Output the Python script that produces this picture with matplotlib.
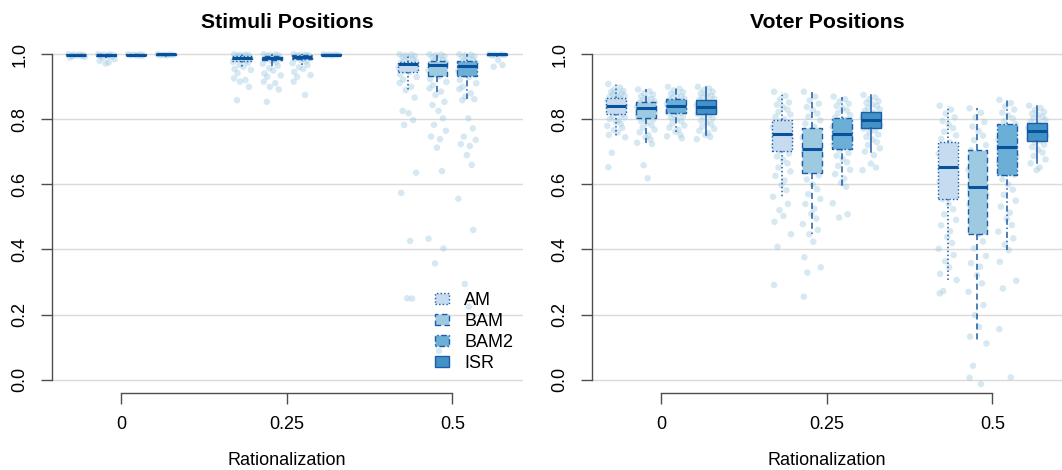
import matplotlib
matplotlib.use('Agg')
import matplotlib.pyplot as plt
from matplotlib.patches import Patch

plt.rcParams['font.family'] = ['Liberation Sans', 'DejaVu Sans']

# ---------------- data ----------------
rationalization = [0, 0.25, 0.5]
xtick_labels = ['0', '0.25', '0.5']
yticks = [0.0, 0.2, 0.4, 0.6, 0.8, 1.0]
ytick_labels = ['0.0', '0.2', '0.4', '0.6', '0.8', '1.0']
methods = ['AM', 'BAM', 'BAM2', 'ISR']
panel_titles = ['Stimuli Positions', 'Voter Positions']
xlabel = 'Rationalization'

# box statistics: rows = rationalization level, columns = AM, BAM, BAM2, ISR
stim_q1 = [[0.997, 0.996, 0.997, 0.998], [0.980, 0.9825, 0.9846, 0.998], [0.9465, 0.934, 0.933, 0.998]]
stim_med = [[0.999, 0.998, 0.999, 0.9995], [0.9877, 0.9896, 0.9927, 0.999], [0.970, 0.967, 0.964, 0.9995]]
stim_q3 = [[1.0, 1.0, 1.0, 1.0], [0.9948, 0.9957, 0.9978, 1.0], [0.9774, 0.980, 0.980, 1.0]]
stim_lo = [[0.994, 0.990, 0.995, 0.996], [0.962, 0.957, 0.967, 0.996], [0.890, 0.875, 0.862, 0.996]]
stim_hi = [[1.0, 1.0, 1.0, 1.0], [1.0, 1.0, 1.0, 1.0], [1.0, 1.0, 1.0, 1.0]]

voter_q1 = [[0.8155, 0.803, 0.8186, 0.8155], [0.7026, 0.634, 0.709, 0.7724], [0.555, 0.4465, 0.6298, 0.7324]]
voter_med = [[0.842, 0.836, 0.841, 0.839], [0.754, 0.708, 0.754, 0.798], [0.6525, 0.593, 0.716, 0.765]]
voter_q3 = [[0.8647, 0.854, 0.8616, 0.8595], [0.797, 0.7724, 0.803, 0.8216], [0.7294, 0.7048, 0.7866, 0.789]]
voter_lo = [[0.745, 0.728, 0.762, 0.752], [0.562, 0.447, 0.593, 0.7005], [0.306, 0.111, 0.398, 0.665]]
voter_hi = [[0.909, 0.892, 0.900, 0.900], [0.885, 0.885, 0.870, 0.875], [0.842, 0.834, 0.8595, 0.842]]

# individual run values (one list per rationalization level)
stim_AM_pts = [
    [1.0, 0.9995, 0.999, 0.998, 0.997, 0.996, 0.995, 0.994, 0.992, 0.990],
    [1.0, 0.999, 0.998, 0.997, 0.996, 0.994, 0.992, 0.990, 0.988, 0.986, 0.984, 0.982, 0.980,
     0.977, 0.973, 0.968, 0.962, 0.955, 0.952, 0.942, 0.926, 0.921, 0.916, 0.900, 0.859],
    [1.0, 0.999, 0.997, 0.995, 0.992, 0.989, 0.985, 0.981, 0.977, 0.974, 0.971, 0.968, 0.964, 0.960,
     0.955, 0.950, 0.945, 0.938, 0.930, 0.922, 0.912, 0.900, 0.890, 0.867, 0.826, 0.819, 0.798,
     0.783, 0.636, 0.574, 0.426, 0.250, 0.249],
]
stim_BAM_pts = [
    [1.0, 0.9995, 0.999, 0.998, 0.996, 0.994, 0.992, 0.990, 0.985, 0.980, 0.975, 0.972],
    [1.0, 0.999, 0.998, 0.997, 0.995, 0.993, 0.991, 0.989, 0.987, 0.985, 0.983, 0.980, 0.976,
     0.971, 0.965, 0.957, 0.950, 0.941, 0.935, 0.931, 0.916, 0.911, 0.900, 0.892, 0.854],
    [1.0, 0.999, 0.997, 0.994, 0.991, 0.987, 0.983, 0.979, 0.975, 0.971, 0.967, 0.962, 0.957, 0.951,
     0.945, 0.939, 0.932, 0.924, 0.915, 0.905, 0.895, 0.885, 0.875, 0.854, 0.844, 0.826, 0.803,
     0.783, 0.765, 0.747, 0.739, 0.713, 0.641, 0.433, 0.403, 0.357, 0.088],
]
stim_BAM2_pts = [
    [1.0, 0.9995, 0.999, 0.998, 0.997, 0.996, 0.995],
    [1.0, 0.999, 0.998, 0.997, 0.996, 0.994, 0.993, 0.991, 0.989, 0.987, 0.985, 0.982, 0.978,
     0.973, 0.967, 0.960, 0.955, 0.946, 0.936, 0.931, 0.916, 0.875],
    [1.0, 0.999, 0.997, 0.994, 0.991, 0.987, 0.983, 0.979, 0.975, 0.970, 0.965, 0.960, 0.955, 0.949,
     0.943, 0.937, 0.930, 0.921, 0.911, 0.900, 0.893, 0.880, 0.870, 0.862, 0.859, 0.803, 0.772,
     0.747, 0.737, 0.724, 0.718, 0.690, 0.660, 0.556, 0.460, 0.294, 0.224],
]
stim_ISR_pts = [
    [1.0, 0.9995, 0.999, 0.998, 0.997, 0.996],
    [1.0, 0.9995, 0.999, 0.998, 0.997, 0.996],
    [1.0, 0.9995, 0.999, 0.998, 0.996, 0.982, 0.967, 0.962],
]

voter_AM_pts = [
    [0.909, 0.898, 0.892, 0.888, 0.885, 0.882, 0.879, 0.876, 0.873, 0.870, 0.868, 0.866, 0.862, 0.858,
     0.855, 0.851, 0.848, 0.845, 0.842, 0.840, 0.837, 0.833, 0.830, 0.826, 0.822, 0.818, 0.815, 0.810,
     0.806, 0.801, 0.797, 0.792, 0.786, 0.780, 0.774, 0.767, 0.760, 0.752, 0.745, 0.697, 0.653],
    [0.885, 0.872, 0.861, 0.852, 0.845, 0.838, 0.830, 0.823, 0.815, 0.808, 0.800, 0.793, 0.785, 0.776,
     0.768, 0.760, 0.752, 0.745, 0.737, 0.728, 0.720, 0.712, 0.703, 0.695, 0.686, 0.676, 0.665, 0.652,
     0.640, 0.626, 0.612, 0.598, 0.582, 0.562, 0.540, 0.521, 0.503, 0.485, 0.447, 0.408, 0.291],
    [0.842, 0.830, 0.818, 0.806, 0.795, 0.784, 0.773, 0.762, 0.751, 0.740, 0.729, 0.718, 0.706, 0.694,
     0.682, 0.670, 0.658, 0.646, 0.634, 0.621, 0.608, 0.595, 0.582, 0.568, 0.555, 0.540, 0.524, 0.508,
     0.491, 0.474, 0.456, 0.438, 0.420, 0.402, 0.383, 0.364, 0.345, 0.325, 0.306, 0.272, 0.265],
]
voter_BAM_pts = [
    [0.892, 0.886, 0.880, 0.876, 0.871, 0.866, 0.862, 0.858, 0.855, 0.852, 0.849, 0.845, 0.842, 0.838,
     0.835, 0.832, 0.828, 0.824, 0.820, 0.816, 0.812, 0.807, 0.803, 0.799, 0.794, 0.788, 0.782, 0.775,
     0.768, 0.760, 0.752, 0.745, 0.738, 0.728, 0.724, 0.659, 0.619],
    [0.885, 0.870, 0.858, 0.848, 0.838, 0.828, 0.818, 0.808, 0.797, 0.787, 0.777, 0.766, 0.755, 0.744,
     0.733, 0.722, 0.711, 0.700, 0.688, 0.676, 0.664, 0.652, 0.640, 0.628, 0.615, 0.600, 0.585, 0.570,
     0.555, 0.540, 0.525, 0.510, 0.495, 0.478, 0.460, 0.447, 0.424, 0.376, 0.345, 0.329, 0.255],
    [0.834, 0.820, 0.806, 0.792, 0.778, 0.764, 0.750, 0.736, 0.721, 0.705, 0.690, 0.675, 0.660, 0.645,
     0.630, 0.615, 0.600, 0.585, 0.570, 0.554, 0.538, 0.521, 0.504, 0.487, 0.468, 0.447, 0.425, 0.403,
     0.380, 0.358, 0.347, 0.321, 0.296, 0.270, 0.229, 0.198, 0.162, 0.132, 0.111, 0.0425, 0.0055, -0.0138],
]
voter_BAM2_pts = [
    [0.900, 0.894, 0.889, 0.884, 0.879, 0.875, 0.871, 0.867, 0.864, 0.861, 0.857, 0.854, 0.850, 0.847,
     0.843, 0.840, 0.837, 0.833, 0.829, 0.825, 0.821, 0.818, 0.814, 0.810, 0.805, 0.800, 0.794, 0.788,
     0.781, 0.775, 0.768, 0.762, 0.752, 0.748, 0.742],
    [0.870, 0.862, 0.855, 0.848, 0.841, 0.834, 0.827, 0.820, 0.813, 0.806, 0.799, 0.791, 0.784, 0.776,
     0.768, 0.760, 0.753, 0.746, 0.738, 0.730, 0.722, 0.714, 0.706, 0.697, 0.688, 0.678, 0.668, 0.657,
     0.645, 0.632, 0.618, 0.605, 0.593, 0.542, 0.508, 0.498],
    [0.860, 0.850, 0.840, 0.830, 0.821, 0.812, 0.803, 0.794, 0.785, 0.776, 0.767, 0.758, 0.748, 0.738,
     0.728, 0.718, 0.708, 0.698, 0.688, 0.677, 0.666, 0.654, 0.642, 0.630, 0.616, 0.600, 0.584, 0.568,
     0.550, 0.532, 0.513, 0.494, 0.475, 0.455, 0.434, 0.415, 0.398, 0.362, 0.304, 0.280, 0.155, 0.0068],
]
voter_ISR_pts = [
    [0.900, 0.895, 0.890, 0.885, 0.880, 0.876, 0.872, 0.868, 0.864, 0.860, 0.856, 0.852, 0.848, 0.844,
     0.840, 0.837, 0.833, 0.829, 0.825, 0.821, 0.817, 0.813, 0.808, 0.803, 0.797, 0.791, 0.785, 0.778,
     0.771, 0.765, 0.758, 0.752, 0.746, 0.739],
    [0.875, 0.868, 0.862, 0.856, 0.851, 0.846, 0.841, 0.836, 0.831, 0.826, 0.821, 0.816, 0.811, 0.806,
     0.801, 0.797, 0.792, 0.787, 0.782, 0.777, 0.772, 0.766, 0.760, 0.753, 0.746, 0.738, 0.730, 0.721,
     0.711, 0.701, 0.690, 0.664, 0.652, 0.644],
    [0.842, 0.835, 0.829, 0.823, 0.818, 0.813, 0.808, 0.803, 0.798, 0.793, 0.788, 0.783, 0.778, 0.773,
     0.768, 0.764, 0.760, 0.755, 0.750, 0.745, 0.740, 0.735, 0.729, 0.722, 0.715, 0.707, 0.698, 0.688,
     0.677, 0.665, 0.652, 0.644],
]

# ---------------- style ----------------
fills = ['#c6dbef', '#9ecae1', '#6baed6', '#4292c6']
edge_col = '#1d5ca6'
med_col = '#08519c'
linestyles = [(0, (1, 1.6)), (0, (4, 2.5)), (0, (1, 1.8, 4, 1.8)), '-']
pt_color = '#9ecae1'
axis_col = '#4d4d4d'
grid_col = '#dadada'
FS = 13
jitter = [-0.8, 0.35, -0.2, 0.7, -0.5, 0.1, 0.55, -0.35, 0.85, -0.65, 0.25, -0.05, 0.45, -0.9, 0.6, -0.25,
          0.15, -0.75, 0.9, -0.45]
offset_step = 0.045
box_w = 0.030
jit_w = 0.015

W, H = 1062, 470
fig = plt.figure(figsize=(W / 100, H / 100), dpi=100)

ax_bottom = 392.6
ax_top = 41.3
ax_w = 470.8
lefts = [51.7, 591.7]

panels = [
    (stim_q1, stim_med, stim_q3, stim_lo, stim_hi, [stim_AM_pts, stim_BAM_pts, stim_BAM2_pts, stim_ISR_pts]),
    (voter_q1, voter_med, voter_q3, voter_lo, voter_hi, [voter_AM_pts, voter_BAM_pts, voter_BAM2_pts, voter_ISR_pts]),
]

axes = []
for p, (q1, med, q3, lo, hi, pts) in enumerate(panels):
    ax = fig.add_axes([lefts[p] / W, 1 - ax_bottom / H, ax_w / W, (ax_bottom - ax_top) / H])
    axes.append(ax)
    ax.set_xlim(-0.1046, 0.6058)
    ax.set_ylim(-0.04, 1.04)

    for yv in yticks:
        ax.axhline(yv, color=grid_col, lw=1.0, zorder=0)

    for i, m in enumerate(methods):
        positions = [r + (i - 1.5) * offset_step for r in rationalization]
        # jittered points
        for k, r in enumerate(rationalization):
            vals = pts[i][k]
            xs = [positions[k] + jitter[j % len(jitter)] * jit_w for j in range(len(vals))]
            ax.scatter(xs, vals, s=22, color=pt_color, alpha=0.42, edgecolors='none', zorder=1)
        stats = [dict(med=med[k][i], q1=q1[k][i], q3=q3[k][i], whislo=lo[k][i], whishi=hi[k][i], fliers=[])
                 for k in range(len(rationalization))]
        ax.bxp(stats, positions=positions, widths=box_w, patch_artist=True, showcaps=False,
               showfliers=False, manage_ticks=False, zorder=3,
               boxprops=dict(facecolor=fills[i], edgecolor=edge_col, linestyle=linestyles[i], lw=1.0),
               whiskerprops=dict(color=edge_col, linestyle=linestyles[i], lw=1.1),
               medianprops=dict(color=med_col, lw=2.2, solid_capstyle='butt'))

    for s in ['top', 'right']:
        ax.spines[s].set_visible(False)
    ax.spines['left'].set_bounds(0, 1)
    ax.spines['bottom'].set_bounds(0, 0.5)
    for s in ['left', 'bottom']:
        ax.spines[s].set_color(axis_col)
        ax.spines[s].set_linewidth(1.0)

    ax.set_yticks(yticks)
    ax.set_yticklabels(ytick_labels, rotation=90, va='center', ha='center')
    ax.set_xticks(rationalization)
    ax.set_xticklabels(xtick_labels)
    ax.tick_params(axis='y', length=7.9, width=1.0, color=axis_col, pad=15.1, labelsize=FS)
    ax.tick_params(axis='x', length=7.9, width=1.0, color=axis_col, pad=9.3, labelsize=FS)

    cx = (lefts[p] + ax_w / 2) / W
    fig.text(cx, 1 - 28.3 / H, panel_titles[p], ha='center', va='baseline', fontsize=15.3, fontweight='bold')
    fig.text(cx, 1 - 464.6 / H, xlabel, ha='center', va='baseline', fontsize=FS)

handles = [Patch(facecolor=fills[i], edgecolor=edge_col, linestyle=linestyles[i], lw=1.0) for i in range(4)]
axes[0].legend(handles, methods, loc='upper left', bbox_to_anchor=(435 / W, 1 - 292.0 / H),
               bbox_transform=fig.transFigure, frameon=False, fontsize=FS, borderpad=0,
               borderaxespad=0, handlelength=0.78, handleheight=0.6, handletextpad=0.85,
               labelspacing=0.22)

fig.savefig('out.png', dpi=100)
